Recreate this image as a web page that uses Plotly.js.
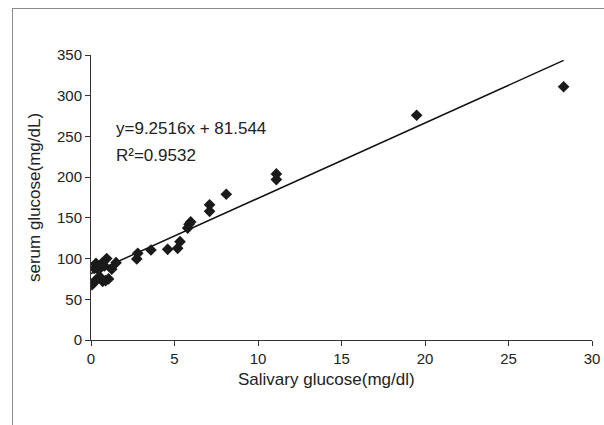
<!DOCTYPE html>
<html>
<head>
<meta charset="utf-8">
<script src="https://cdn.plot.ly/plotly-3.0.1.min.js"></script>
<style>
  html, body { margin: 0; padding: 0; background: #fff; }
  #frame { position: absolute; left: 12px; top: 8px; width: 620px; height: 440px;
           border-top: 1px solid #8a8a8a; border-left: 1px solid #8a8a8a; pointer-events: none; }
  #chart { width: 604px; height: 425px; position: absolute; left: 0; top: 0; }
</style>
</head>
<body>
<div id="chart"></div>
<div id="frame"></div>
<script>
// Salivary glucose (mg/dl) vs serum glucose (mg/dL)
const salivary = [0.06, 0.2, 0.3, 0.5, 0.7, 0.88, 1.05, 0.6,
                  0.3, 0.44, 0.64, 0.94, 0.2, 1.24, 1.5, 0.8,
                  2.74, 2.8, 3.59, 4.59, 5.19, 5.33, 5.79, 5.87, 5.97,
                  7.1, 7.1, 8.1, 11.1, 11.1, 19.5, 28.3];
const serum    = [68, 71, 74, 77, 72, 73, 75, 76,
                  94, 86, 94, 100, 88, 87, 95, 91,
                  99.5, 106.5, 110.5, 111.4, 112.6, 120.7, 137.5, 142, 145,
                  158, 166, 179, 197, 204, 276, 311];
const trendX = [0, 28.3];
const trendY = [81.5, 343.4];
const eqText = "y=9.2516x + 81.544";
const r2Text = "R²=0.9532";
const xTitle = "Salivary glucose(mg/dl)";
const yTitle = "serum glucose(mg/dL)";
const xTicks = [0, 5, 10, 15, 20, 25, 30];
const yTicks = [0, 50, 100, 150, 200, 250, 300, 350];

const font = "Liberation Sans, Arial, sans-serif";

Plotly.newPlot("chart", [
  { x: trendX, y: trendY, mode: "lines", type: "scatter",
    line: { color: "#111", width: 1.5 }, hoverinfo: "skip", showlegend: false },
  { x: salivary, y: serum, mode: "markers", type: "scatter",
    marker: { symbol: "diamond", size: 9, color: "#1a1a1a" }, showlegend: false }
], {
  width: 604, height: 425,
  margin: { l: 91, r: 12, t: 55, b: 85 },
  paper_bgcolor: "#fff", plot_bgcolor: "#fff",
  font: { family: font, color: "#222", size: 15 },
  xaxis: {
    range: [0, 30], tickvals: xTicks, ticktext: xTicks.map(String),
    showgrid: false, zeroline: false, showline: true, linecolor: "#333", linewidth: 1,
    ticks: "outside", ticklen: 5, tickcolor: "#333",
    tickfont: { size: 15, family: font, color: "#222" }
  },
  yaxis: {
    range: [0, 350], tickvals: yTicks, ticktext: yTicks.map(String),
    showgrid: false, zeroline: false, showline: true, linecolor: "#333", linewidth: 1,
    ticks: "outside", ticklen: 5, tickcolor: "#333",
    tickfont: { size: 15, family: font, color: "#222" },
    title: { text: yTitle, font: { size: 17, family: font, color: "#222" }, standoff: 12 }
  },
  annotations: [
    { xref: "paper", yref: "paper", x: 0.471, y: -0.14, xanchor: "center", yanchor: "middle",
      text: xTitle, showarrow: false, font: { size: 17, family: font, color: "#222" } },
    { xref: "paper", yref: "paper", x: 0.046, y: 0.742, xanchor: "left", yanchor: "middle",
      text: eqText, showarrow: false, font: { size: 17, family: font, color: "#222" } },
    { xref: "paper", yref: "paper", x: 0.046, y: 0.648, xanchor: "left", yanchor: "middle",
      text: r2Text, showarrow: false, font: { size: 17, family: font, color: "#222" } }
  ]
}, { displayModeBar: false, staticPlot: true });
</script>
</body>
</html>
